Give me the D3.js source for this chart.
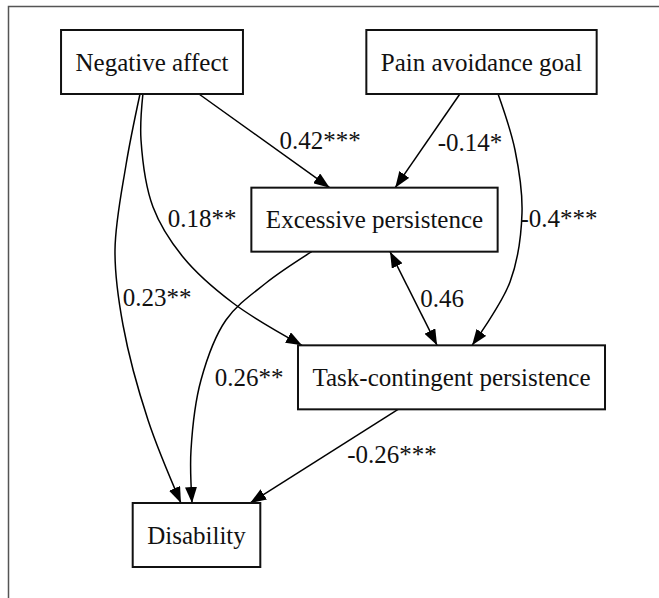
<!DOCTYPE html>
<html>
<head>
<meta charset="utf-8">
<script src="https://cdn.jsdelivr.net/npm/d3@7"></script>
<style>
  body { margin: 0; background: #fff; }
</style>
</head>
<body>
<div id="wrapper"></div>
<script>
// 1. Data

const nodeNames = [
  "Negative affect",
  "Pain avoidance goal",
  "Excessive persistence",
  "Task-contingent persistence",
  "Disability",
]

const edgeSources = [0, 1, 1, 0, 0, 2, 2, 3]
const edgeTargets = [2, 2, 3, 3, 4, 3, 4, 4]
const edgeLabels = ["0.42***", "-0.14*", "-0.4***", "0.18**", "0.23**", "0.46", "0.26**", "-0.26***"]
const edgeBoth = [false, false, false, false, false, true, false, false]

// 2. Layout (graph units: row index, pixel x)

const nodeRow = [0, 0, 1, 2, 3]
const nodeCx = [152, 481.5, 374.5, 451.5, 196.5]

// where each edge leaves the source bottom / enters the target top (fraction of width)
const edgeStart = [0.758, 0.406, 0.572, 0.45, 0.434, 0.563, 0.245, 0.326]
const edgeEnd = [0.318, 0.584, 0.567, 0.013, 0.378, 0.453, 0.465, 0.921]
const edgeVia = [
  [],
  [],
  [[515, 150], [522, 213], [510, 282]],
  [[141, 140], [153, 207], [183, 257], [233, 303]],
  [[126, 165], [115, 250], [123, 325], [148, 420]],
  [],
  [[266, 283], [226, 320], [201, 380], [191, 450]],
  [],
]
const labelPos = [[320, 140], [470, 142], [559, 218], [202, 218], [157, 297], [442, 298], [249, 377], [392, 454]]

const fontFamily = "'Liberation Serif', 'Times New Roman', Times, serif"

let dimensions = {
  width: 659,
  height: 598,
  boxHeight: 64,
  boxPad: 14.5,
  fontSize: 25,
}

// 3. Draw canvas

const wrapper = d3.select("#wrapper")
  .append("svg")
    .attr("width", dimensions.width)
    .attr("height", dimensions.height)

const xScale = d3.scaleLinear()
  .domain([0, dimensions.width])
  .range([0, dimensions.width])

const yScale = d3.scaleLinear()
  .domain([0, 3])
  .range([62, 535])

// frame
wrapper.append("path")
    .attr("d", `M8.5,${dimensions.height} V6.5 H${dimensions.width}`)
    .attr("fill", "none")
    .attr("stroke", "#555")
    .attr("stroke-width", 1.5)

const defs = wrapper.append("defs")
defs.append("marker")
    .attr("id", "arrow")
    .attr("viewBox", "0 0 16 12")
    .attr("refX", 16)
    .attr("refY", 6)
    .attr("markerWidth", 16)
    .attr("markerHeight", 12)
    .attr("markerUnits", "userSpaceOnUse")
    .attr("orient", "auto-start-reverse")
  .append("path")
    .attr("d", "M0,0 L16,6 L0,12 Z")
    .attr("fill", "#000")

// 4. Nodes

const nodes = nodeNames.map((name, i) => ({ name, cx: xScale(nodeCx[i]), cy: yScale(nodeRow[i]) }))

const nodeGroups = wrapper.selectAll(".node")
  .data(nodes)
  .enter().append("g")
    .attr("class", "node")

const labels = nodeGroups.append("text")
    .attr("x", d => d.cx)
    .attr("y", d => d.cy)
    .attr("text-anchor", "middle")
    .attr("dominant-baseline", "central")
    .style("font-family", fontFamily)
    .style("font-size", dimensions.fontSize + "px")
    .style("fill", "#111")
    .text(d => d.name)

labels.each(function(d) {
  d.w = this.getComputedTextLength() + dimensions.boxPad * 2
  d.h = dimensions.boxHeight
  d.x0 = d.cx - d.w / 2
  d.y0 = d.cy - d.h / 2
})

nodeGroups.insert("rect", "text")
    .attr("x", d => d.x0)
    .attr("y", d => d.y0)
    .attr("width", d => d.w)
    .attr("height", d => d.h)
    .attr("fill", "#fff")
    .attr("stroke", "#111")
    .attr("stroke-width", 2)

// 5. Edges

const edges = edgeLabels.map((label, i) => {
  const s = nodes[edgeSources[i]]
  const t = nodes[edgeTargets[i]]
  const start = [s.x0 + s.w * edgeStart[i], s.y0 + s.h]
  const end = [t.x0 + t.w * edgeEnd[i], t.y0]
  return { label, both: edgeBoth[i], points: [start, ...edgeVia[i], end], lx: labelPos[i][0], ly: labelPos[i][1] }
})

const lineGenerator = d3.line()
  .x(d => xScale(d[0]))
  .y(d => d[1])
  .curve(d3.curveCatmullRom.alpha(0.5))

const edgeLayer = wrapper.insert("g", ".node")

edgeLayer.selectAll(".edge")
  .data(edges)
  .enter().append("path")
    .attr("class", "edge")
    .attr("d", d => lineGenerator(d.points))
    .attr("fill", "none")
    .attr("stroke", "#000")
    .attr("stroke-width", 1.5)
    .attr("marker-end", "url(#arrow)")
    .attr("marker-start", d => d.both ? "url(#arrow)" : null)

edgeLayer.selectAll(".edge-label")
  .data(edges)
  .enter().append("text")
    .attr("class", "edge-label")
    .attr("x", d => xScale(d.lx))
    .attr("y", d => d.ly)
    .attr("text-anchor", "middle")
    .attr("dominant-baseline", "central")
    .style("font-family", fontFamily)
    .style("font-size", dimensions.fontSize + "px")
    .style("fill", "#111")
    .text(d => d.label)
</script>
</body>
</html>
